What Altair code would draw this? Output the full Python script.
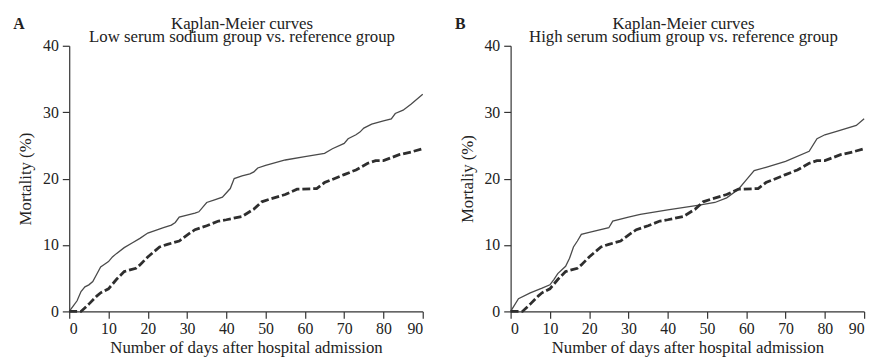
import altair as alt
import pandas as pd

FONT = "Liberation Serif"

# Reference group (dashed, same in both panels)
days_ref = [0, 3, 5, 7, 8, 10, 12, 14, 17, 18, 20, 23, 25, 28, 30, 32, 35, 38, 40, 44, 47, 49, 51, 55, 58, 63, 65, 70, 73, 76, 78, 80, 84, 87, 90]
mort_ref = [0, 0, 1.1, 2.3, 2.8, 3.4, 4.8, 6.0, 6.5, 7.0, 8.2, 9.7, 10.1, 10.6, 11.5, 12.3, 12.9, 13.6, 13.8, 14.3, 15.4, 16.5, 16.9, 17.6, 18.4, 18.5, 19.4, 20.6, 21.3, 22.3, 22.7, 22.7, 23.6, 24.0, 24.5]

# Low serum sodium group (panel A, solid)
days_low = [0, 1, 2, 3, 4, 5, 6, 7, 8, 9, 10, 11, 12, 14, 16, 18, 20, 22, 24, 26, 27, 28, 30, 32, 33, 35, 37, 39, 41, 42, 44, 46, 47, 48, 50, 55, 60, 65, 67, 70, 71, 73, 74, 75, 77, 80, 82, 83, 85, 87, 90]
mort_low = [0, 0.8, 1.6, 3.0, 3.7, 4.0, 4.5, 5.6, 6.7, 7.1, 7.5, 8.2, 8.7, 9.6, 10.3, 11.0, 11.8, 12.2, 12.6, 13.0, 13.4, 14.2, 14.5, 14.8, 15.0, 16.4, 16.8, 17.2, 18.5, 20.0, 20.4, 20.7, 21.0, 21.6, 22.0, 22.8, 23.3, 23.8, 24.5, 25.3, 26.0, 26.6, 27.0, 27.6, 28.2, 28.7, 29.0, 29.8, 30.3, 31.2, 32.7]

# High serum sodium group (panel B, solid)
days_high = [0, 2, 5, 8, 10, 11, 12, 14, 15, 16, 17, 18, 20, 25, 26, 30, 33, 40, 48, 52, 55, 58, 60, 62, 65, 70, 76, 78, 80, 83, 88, 90]
mort_high = [0, 1.9, 2.8, 3.5, 4.0, 4.8, 5.7, 6.8, 8.0, 9.7, 10.6, 11.6, 11.9, 12.6, 13.6, 14.2, 14.6, 15.3, 16.0, 16.4, 17.1, 18.4, 19.8, 21.2, 21.7, 22.6, 24.1, 26.0, 26.6, 27.1, 28.0, 29.0]

x_ticks = list(range(0, 91, 10))
y_ticks = [0, 10, 20, 30, 40]

W, H = 358, 269


def panel(letter, subtitle, ytitle, days, mort):
    df = pd.DataFrame({
        "day": days + days_ref,
        "mort": mort + mort_ref,
        "grp": ["study"] * len(days) + ["ref"] * len(days_ref),
    })
    x = alt.X("day:Q", scale=alt.Scale(domain=[0, 90], nice=False),
              axis=alt.Axis(values=x_ticks, title="Number of days after hospital admission",
                            tickSize=7, labelPadding=2, titlePadding=4))
    y = alt.Y("mort:Q", scale=alt.Scale(domain=[0, 40], nice=False),
              axis=alt.Axis(values=y_ticks, title=ytitle, tickSize=7, labelPadding=4,
                            titlePadding=8))
    base = alt.Chart(df)
    solid = base.transform_filter(alt.datum.grp == "study").mark_line(
        color="#4a4a4a", strokeWidth=1.3).encode(x=x, y=y, order="day:Q")
    dashed = base.transform_filter(alt.datum.grp == "ref").mark_line(
        color="#2e2e2e", strokeWidth=2.8, strokeDash=[8, 3]).encode(x=x, y=y, order="day:Q")
    lab = alt.Chart(pd.DataFrame({"t": [letter]})).mark_text(
        font=FONT, fontSize=16, fontWeight="bold", color="#222", align="center",
        baseline="alphabetic").encode(text="t:N", x=alt.value(-51), y=alt.value(-17))
    t1 = alt.Chart(pd.DataFrame({"t": ["Kaplan-Meier curves"]})).mark_text(
        font=FONT, fontSize=17, color="#222", align="center", baseline="alphabetic"
    ).encode(text="t:N", x=alt.value(W / 2 - 4), y=alt.value(-17))
    t2 = alt.Chart(pd.DataFrame({"t": [subtitle]})).mark_text(
        font=FONT, fontSize=17, color="#222", align="center", baseline="alphabetic"
    ).encode(text="t:N", x=alt.value(W / 2 - 4), y=alt.value(-4))
    return alt.layer(solid, dashed, lab, t1, t2).properties(width=W, height=H)


a = panel("A", "Low serum sodium group vs. reference group", "Mortality (%)", days_low, mort_low)
b = panel("B", "High serum sodium group vs. reference group", "Mortaliy (%)", days_high, mort_high)

chart = alt.hconcat(a, b, spacing=26).configure_view(stroke=None).configure_axis(
    grid=False, domainColor="#333", tickColor="#333", labelColor="#222", titleColor="#222",
    labelFont=FONT, titleFont=FONT, labelFontSize=16, titleFontSize=17,
    titleFontWeight="normal", domainWidth=1.2, tickWidth=1.2,
)

chart.save("out.html", embed_options={"renderer": "svg", "actions": False})
